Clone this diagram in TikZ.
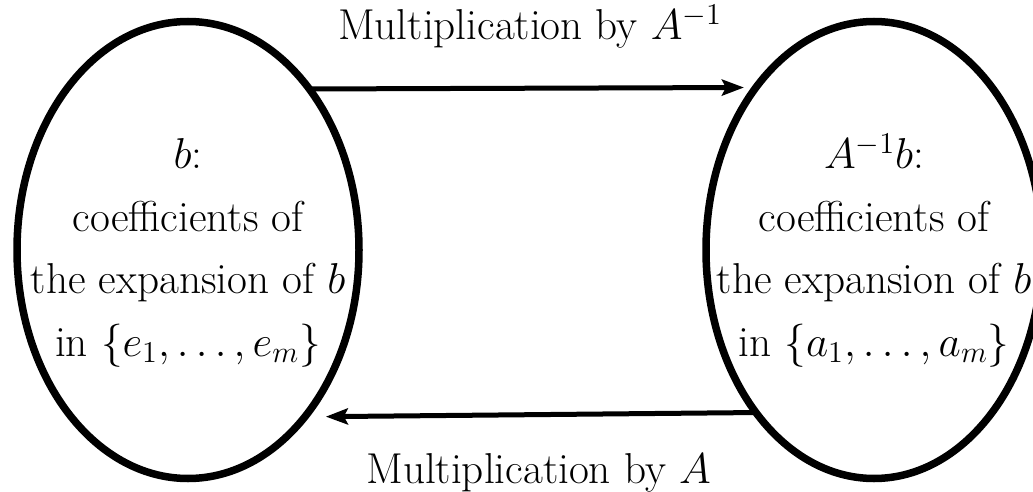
\RequirePackage{fix-cm}
\documentclass[tikz,border=0pt]{standalone}
\usetikzlibrary{arrows.meta,shapes.geometric}
\newcommand{\bubbletext}[1]{\makebox[0pt]{\raisebox{7pt}{\begin{tabular}{@{}c@{}}#1\end{tabular}}}}
\begin{document}
\begin{tikzpicture}[x=0.5pt,y=-0.5pt,
  txt/.style={font=\fontsize{21.6pt}{31.2pt}\selectfont},
  bubble/.style={draw, ellipse, line width=3.75pt, inner sep=0pt, outer sep=0pt,
    minimum height=228.5pt, txt},
  conn/.style={line width=2.5pt, -{Stealth[length=11pt,width=8pt,inset=2pt]}}]
\useasboundingbox (0,0) rectangle (1033,492);
\node[bubble, minimum width=171pt] (L) at (188,250)
  {\bubbletext{$b$:\\coefficients of\\the expansion of $b$\\in $\{e_1,\dots,e_m\}$}};
\node[bubble, minimum width=168pt] (R) at (874,250)
  {\bubbletext{$A^{-1}b$:\\coefficients of\\the expansion of $b$\\in $\{a_1,\dots,a_m\}$}};
\draw[conn, shorten >=6pt] (L.53.33) -- (R.126.19);
\draw[conn, shorten >=10.5pt] (R.234.84) -- (L.305.64);
\node[txt, anchor=base, inner sep=0pt] (topl) at (530,40) {Multiplication by $A^{-1}$};
\node[txt, anchor=base, inner sep=0pt] (botl) at (538.5,483) {Multiplication by $A$};
\end{tikzpicture}
\end{document}
